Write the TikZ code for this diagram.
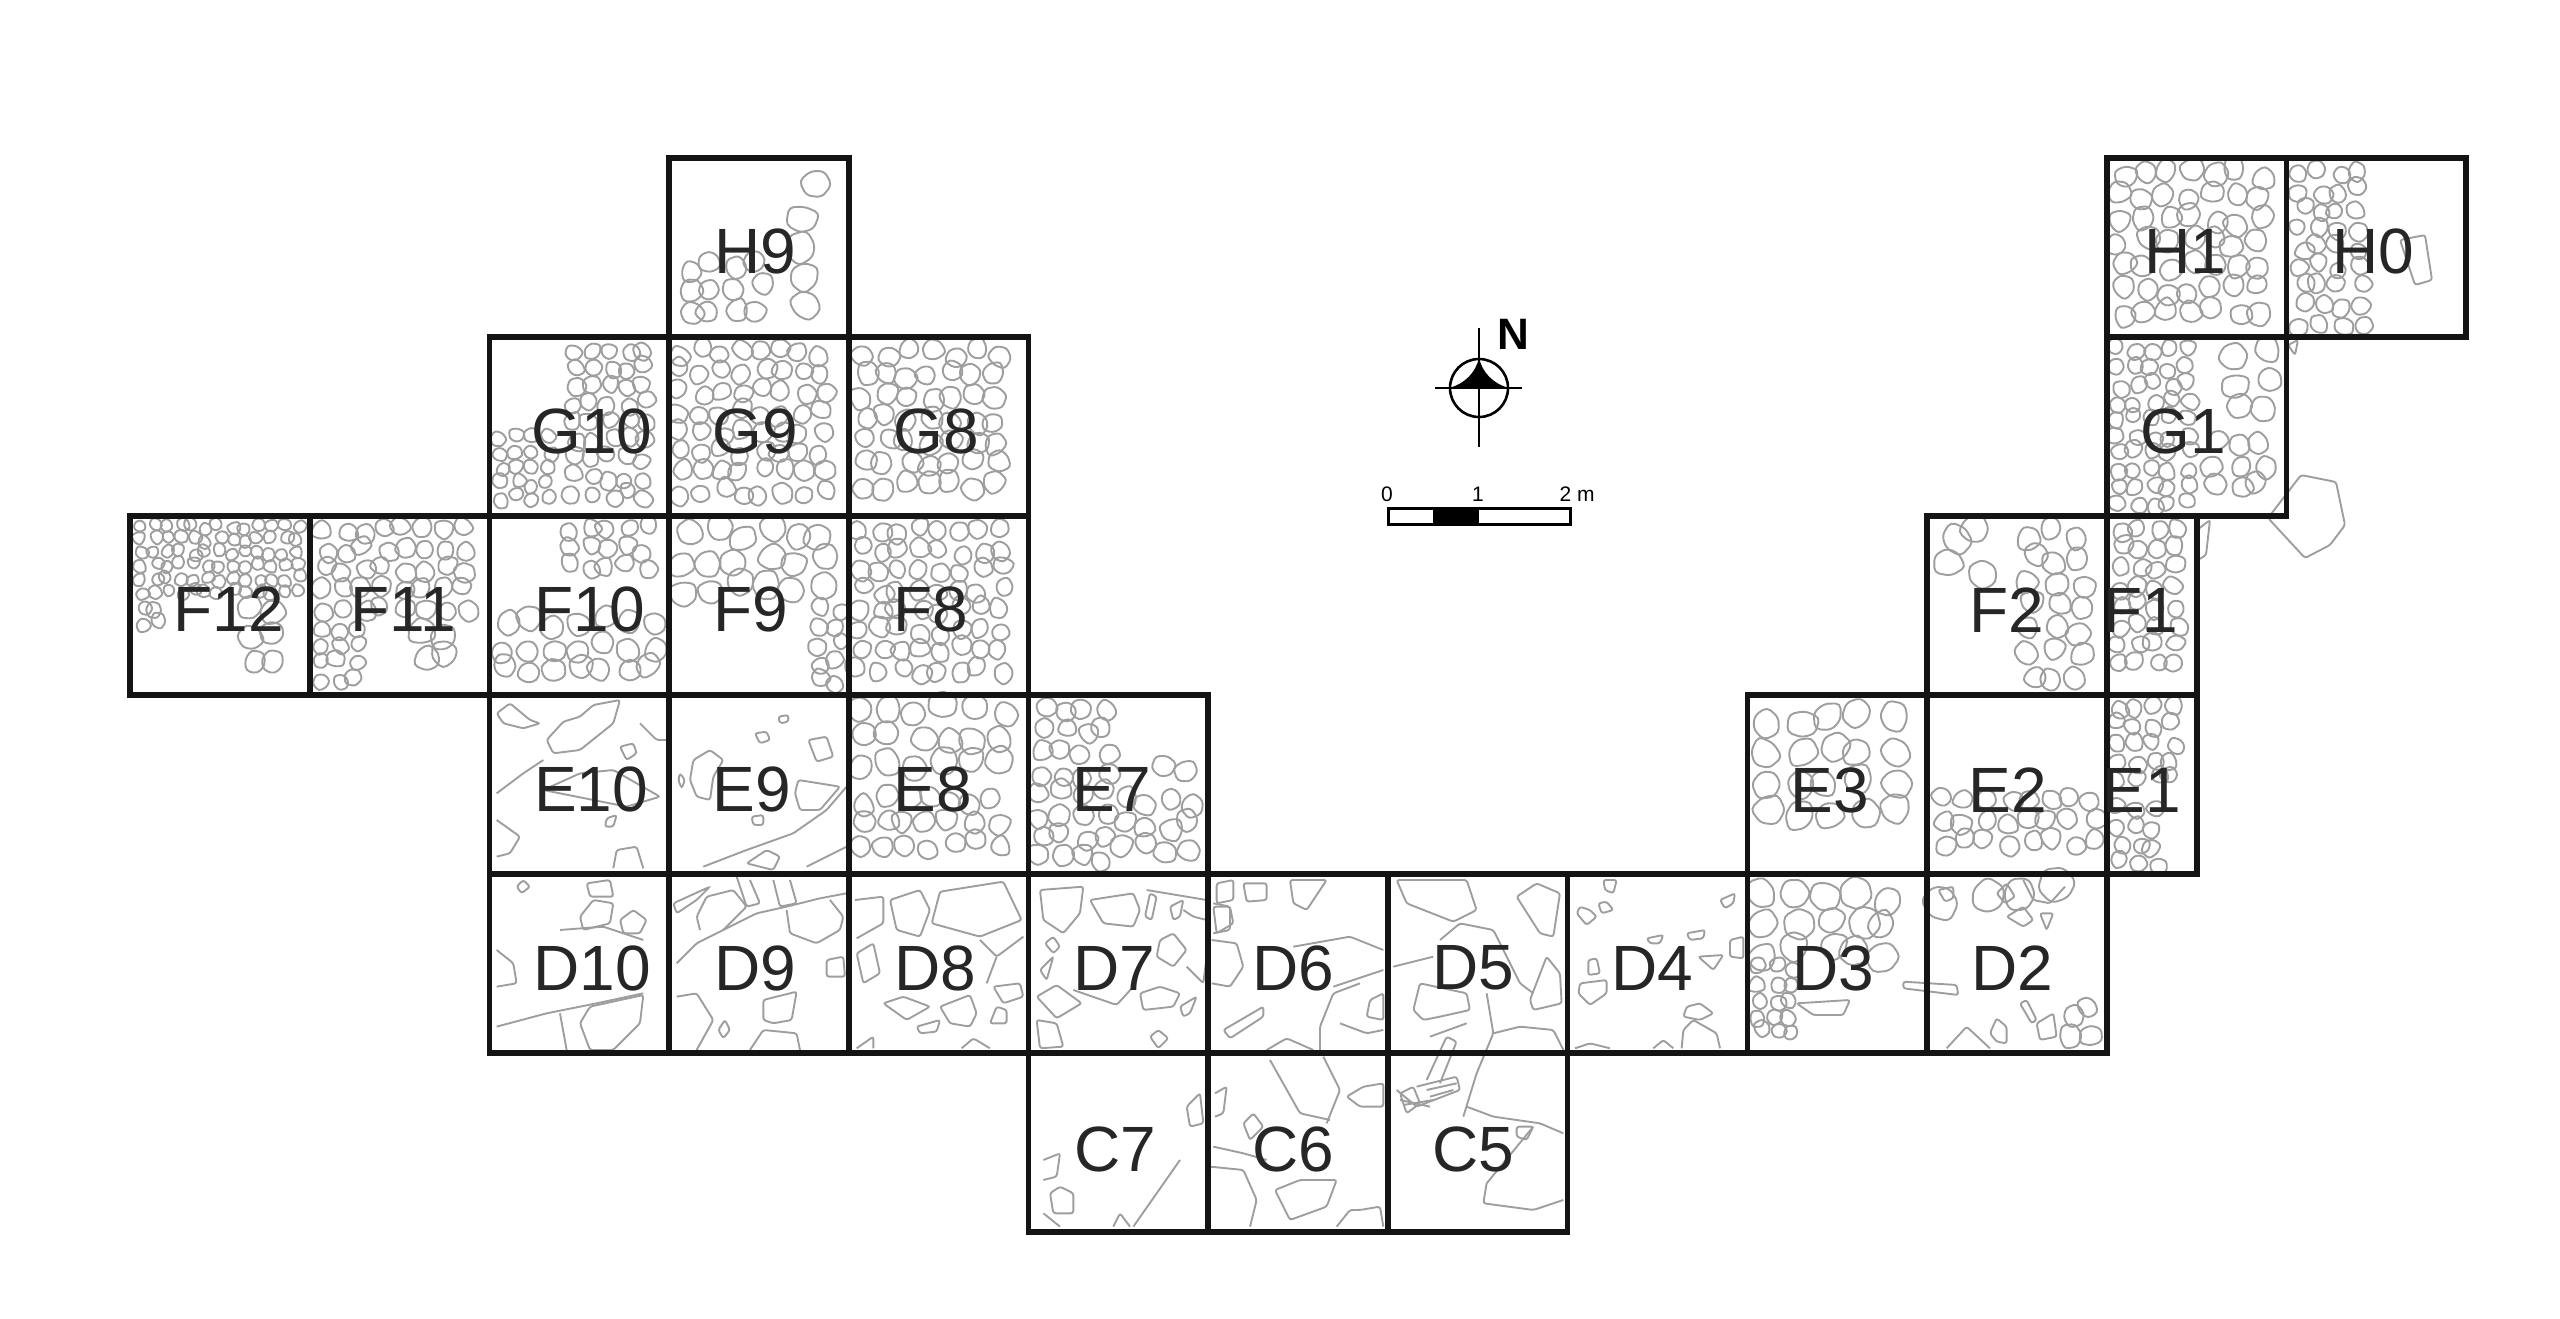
\documentclass[tikz,border=0pt]{standalone}
\usepackage{fontspec}
\setmainfont{Liberation Sans}
\tikzset{
	cell/.style={draw=black!92, rectangle, line width=5.6pt, minimum width=179.7pt, minimum height=179pt, inner sep=0pt, outer sep=0pt},
	halfcell/.style={cell, minimum width=90.3pt},
	tag/.style={inner sep=0pt, text=black!85, font=\fontsize{64}{64}\selectfont},
	stone/.style={draw=black!38, line width=1.9pt, rounded corners=2.5pt},
	smalltext/.style={inner sep=0pt, font=\fontsize{21}{21}\selectfont},
}
\pgfmathsetseed{11}
\newcommand{\cobbles}[5]{
	\pgfmathtruncatemacro\nx{(#3-#1)/#5-1}
	\pgfmathtruncatemacro\ny{(#4-#2)/#5-1}
	\foreach \i in {0,...,\nx}{
		\foreach \j in {0,...,\ny}{
			\pgfmathsetmacro\cx{#1+(\i+.25+.5*rnd)*#5}
			\pgfmathsetmacro\cy{#2+(\j+.25+.5*rnd)*#5}
			\pgfmathsetmacro\rot{360*rnd}
			\pgfmathsetmacro\ra{#5*(.42+.2*rnd)}
			\pgfmathsetmacro\rb{#5*(.42+.2*rnd)}
			\pgfmathsetmacro\rc{#5*(.42+.2*rnd)}
			\pgfmathsetmacro\rd{#5*(.42+.2*rnd)}
			\pgfmathsetmacro\re{#5*(.42+.2*rnd)}
			\pgfmathsetmacro\rf{#5*(.42+.2*rnd)}
			\draw [stone, rounded corners=#5*.17pt] ([shift={(\rot:\ra)}]\cx,\cy) -- ([shift={(\rot+60:\rb)}]\cx,\cy) -- ([shift={(\rot+120:\rc)}]\cx,\cy) -- ([shift={(\rot+180:\rd)}]\cx,\cy) -- ([shift={(\rot+240:\re)}]\cx,\cy) -- ([shift={(\rot+300:\rf)}]\cx,\cy) -- cycle;
		}
	}
}
\begin{document}
\begin{tikzpicture}[x=1pt, y=-1pt]
	\useasboundingbox (0,0) rectangle (2560,1318);

	% stones, packed
	\cobbles{678}{255}{790}{335}{23}
	\cobbles{795}{170}{846}{335}{30}
	\cobbles{565}{342}{667}{514}{18}
	\cobbles{494}{430}{565}{514}{15}
	\cobbles{672}{342}{847}{514}{20}
	\cobbles{853}{342}{1026}{514}{22}
	\cobbles{135}{520}{305}{600}{13}
	\cobbles{240}{600}{305}{692}{24}
	\cobbles{135}{600}{165}{630}{15}
	\cobbles{314}{520}{487}{620}{20}
	\cobbles{314}{620}{370}{692}{17}
	\cobbles{410}{620}{487}{692}{26}
	\cobbles{560}{520}{667}{590}{19}
	\cobbles{494}{610}{667}{692}{24}
	\cobbles{672}{520}{847}{610}{27}
	\cobbles{810}{600}{847}{692}{18}
	\cobbles{850}{520}{1026}{692}{20}
	\cobbles{852}{698}{1027}{800}{27}
	\cobbles{852}{790}{1027}{872}{22}
	\cobbles{1032}{700}{1120}{872}{21}
	\cobbles{1110}{790}{1206}{872}{23}
	\cobbles{1150}{760}{1206}{800}{22}
	\cobbles{1755}{705}{1925}{830}{30}
	\cobbles{1935}{790}{2105}{872}{21}
	\cobbles{2020}{522}{2105}{690}{24}
	\cobbles{1935}{522}{2020}{590}{30}
	\cobbles{2110}{520}{2195}{690}{19}
	\cobbles{2110}{698}{2195}{800}{18}
	\cobbles{2110}{800}{2170}{872}{18}
	\cobbles{2110}{342}{2205}{514}{17}
	\cobbles{2205}{430}{2284}{514}{22}
	\cobbles{2225}{342}{2284}{430}{26}
	\cobbles{2110}{162}{2285}{335}{23}
	\cobbles{2292}{162}{2370}{335}{19}
	\cobbles{1752}{878}{1925}{990}{30}
	\cobbles{1752}{960}{1810}{1050}{16}
	\cobbles{1930}{876}{2100}{920}{36}
	\cobbles{2060}{1000}{2105}{1050}{22}

	% stones, single
	\begin{scope}[x=.3333pt, y=-.3333pt, shift={(480pt,-690pt)}]
		\draw [stone] (200,150)--(250,95)--(300,80)--(340,45)--(420,30)--(400,100)--(300,180)--(220,190)--cycle;
		\draw [stone] (50,70)--(90,40)--(150,90)--(180,100)--(130,115)--(70,100)--cycle;
		\draw [stone] (50,310)--(130,250)--(190,210);
		\draw [stone] (190,300)--(300,250)--(400,240)--(540,320)--(440,350)--cycle;
		\draw [stone] (420,170)--(460,160)--(470,190)--(440,210)--cycle;
		\draw [stone] (380,385)--(410,375)--(400,410)--(375,410)--cycle;
		\draw [stone] (400,535)--(410,480)--(470,470)--(490,535);
		\draw [stone] (50,390)--(120,440)--(90,490)--(50,500);
		\draw [stone] (480,100)--(530,150)--(560,150);
		\draw [stone] (640,210)--(690,180)--(730,210)--(700,260)--(690,330)--(650,320)--(630,270)--cycle;
		\draw [stone] (600,250)--(615,270)--(605,295)--(595,270)--cycle;
		\draw [stone] (825,130)--(860,125)--(870,150)--(840,160)--cycle;
		\draw [stone] (895,80)--(925,75)--(925,95)--(900,100)--cycle;
		\draw [stone] (815,380)--(850,375)--(850,405)--(820,405)--cycle;
		\draw [stone] (955,270)--(1080,290)--(1020,360)--(960,360)--(945,310)--cycle;
		\draw [stone] (985,150)--(1040,140)--(1060,200)--(1010,215)--cycle;
		\draw [stone] (1100,290)--(1040,360)--(940,430)--(800,480)--(670,530);
		\draw [stone] (800,520)--(860,480)--(900,500)--(880,540)--cycle;
		\draw [stone] (980,530)--(1100,470);
		\draw [stone] (300,680)--(340,630)--(400,640)--(390,700)--(310,720)--cycle;
		\draw [stone] (420,690)--(460,660)--(500,690)--(480,730)--(430,730)--cycle;
		\draw [stone] (320,580)--(390,570)--(400,620)--(330,620)--cycle;
		\draw [stone] (50,1010)--(200,970)--(350,940)--(490,910);
		\draw [stone] (240,720)--(370,710)--(490,750);
		\draw [stone] (300,1000)--(330,950)--(490,915)--(480,1000)--(400,1080)--(330,1080)--cycle;
		\draw [stone] (50,780)--(100,820)--(110,880)--(50,890);
		\draw [stone] (240,970)--(260,1080);
		\draw [stone] (130,570)--(150,590)--(125,610)--(110,590)--cycle;
		\draw [stone] (590,820)--(650,760)--(730,720)--(830,670)--(920,650)--(1020,625)--(1100,610);
		\draw [stone] (660,720)--(650,680)--(680,620)--(760,600)--(800,650)--(730,720);
		\draw [stone] (920,660)--(930,730)--(1010,760)--(1080,720)--(1090,680)--(1050,630);
		\draw [stone] (590,920)--(650,910)--(700,990)--(650,1080);
		\draw [stone] (850,990)--(850,930)--(950,905)--(935,990)--(880,1000)--cycle;
		\draw [stone] (715,1020)--(735,990)--(750,1020)--(730,1045)--cycle;
		\draw [stone] (810,1080)--(850,1020)--(950,1030)--(960,1080);
		\draw [stone] (1040,810)--(1090,800)--(1095,860)--(1040,860)--cycle;
		\draw [stone] (770,560)--(800,650)--(840,640)--(810,570);
		\draw [stone] (580,640)--(690,590)--(650,630)--(590,670)--cycle;
		\draw [stone] (880,570)--(900,650)--(950,640)--(930,570);
	\end{scope}
	\begin{scope}[x=.3333pt, y=-.3333pt, shift={(840pt,-690pt)}]
		\draw [stone] (275,700)--(300,605)--(490,575)--(545,690)--(420,740)--cycle;
		\draw [stone] (150,630)--(240,600)--(270,660)--(240,740)--(170,720)--cycle;
		\draw [stone] (45,630)--(130,620)--(130,700)--(50,745);
		\draw [stone] (50,790)--(100,760)--(120,850)--(70,880)--cycle;
		\draw [stone] (130,940)--(190,920)--(270,950)--(200,990)--cycle;
		\draw [stone] (300,950)--(390,915)--(410,970)--(390,1010)--(330,1000)--cycle;
		\draw [stone] (460,890)--(540,880)--(550,920)--(490,940)--cycle;
		\draw [stone] (450,1000)--(470,950)--(500,960)--(500,1000)--cycle;
		\draw [stone] (50,1075)--(100,1040)--(100,1075);
		\draw [stone] (365,1075)--(400,1045)--(450,1075);
		\draw [stone] (230,1010)--(300,990)--(290,1025)--(240,1030)--cycle;
		\draw [stone] (420,750)--(470,800)--(550,740);
		\draw [stone] (470,800)--(440,880);
		\draw [stone] (600,600)--(730,590)--(720,670)--(670,730)--(610,690)--cycle;
		\draw [stone] (750,630)--(880,610)--(900,660)--(880,710)--(790,700)--cycle;
		\draw [stone] (615,760)--(640,740)--(660,770)--(640,790)--cycle;
		\draw [stone] (590,920)--(650,885)--(725,940)--(650,985)--cycle;
		\draw [stone] (590,990)--(650,1000)--(670,1070)--(600,1075)--cycle;
		\draw [stone] (900,910)--(960,890)--(1020,910)--(1000,950)--(910,960)--cycle;
		\draw [stone] (930,1040)--(955,1020)--(985,1045)--(955,1075)--cycle;
		\draw [stone] (700,900)--(830,945)--(880,890);
		\draw [stone] (920,600)--(1100,630);
		\draw [stone] (1030,660)--(1060,680)--(1100,690);
		\draw [stone] (950,800)--(1000,830)--(1040,780)--(1000,730)--(960,750)--cycle;
		\draw [stone] (1040,830)--(1090,880)--(1100,800);
		\draw [stone] (915,680)--(930,610)--(950,620)--(935,690)--cycle;
		\draw [stone] (990,650)--(1030,630)--(1020,680)--(1000,690)--cycle;
		\draw [stone] (1020,950)--(1070,920)--(1050,970)--(1030,980)--cycle;
		\draw [stone] (600,840)--(640,800)--(620,870)--cycle;
		\draw [stone] (1120,640)--(1170,650)--(1170,720)--(1120,730);
	\end{scope}
	\begin{scope}[x=.3333pt, y=-.3333pt, shift={(1200pt,-860pt)}]
		\draw [stone] (130,70)--(200,70)--(200,120)--(140,125)--cycle;
		\draw [stone] (50,70)--(100,60)--(100,120)--(50,130)--cycle;
		\draw [stone] (270,60)--(380,60)--(320,150)--(280,130)--cycle;
		\draw [stone] (35,240)--(110,250)--(130,320)--(90,380)--(35,370);
		\draw [stone] (40,140)--(90,140)--(100,190)--(50,220)--cycle;
		\draw [stone] (70,510)--(190,440)--(190,470)--(90,535)--cycle;
		\draw [stone] (280,260)--(450,230)--(550,270);
		\draw [stone] (400,380)--(550,330);
		\draw [stone] (360,570)--(360,500)--(400,400)--(480,370);
		\draw [stone] (420,490)--(500,520)--(550,510);
		\draw [stone] (510,420)--(550,400)--(550,480)--(500,470)--cycle;
		\draw [stone] (200,570)--(260,535)--(340,570);
		\draw [stone] (370,590)--(420,690)--(380,790);
		\draw [stone] (210,600)--(300,760)--(390,780);
		\draw [stone] (440,710)--(490,680)--(550,670)--(550,740)--(480,740)--cycle;
		\draw [stone] (225,990)--(300,960)--(410,960)--(380,1040)--(270,1080)--cycle;
		\draw [stone] (130,790)--(160,760)--(190,800)--(150,840)--cycle;
		\draw [stone] (30,920)--(130,930)--(170,1020)--(150,1100);
		\draw [stone] (410,1100)--(450,1050)--(480,1050)--(540,1040)--(550,1100);
		\draw [stone] (45,700)--(80,680)--(70,760)--(45,770);
		\draw [stone] (40,860)--(130,880)--(200,900);
		\draw [stone] (590,60)--(800,60)--(830,150)--(760,185)--(620,130)--cycle;
		\draw [stone] (950,110)--(1010,70)--(1080,100)--(1060,230)--(1020,220)--cycle;
		\draw [stone] (720,240)--(780,190)--(880,210)--(960,370)--(1000,400);
		\draw [stone] (580,320)--(700,290);
		\draw [stone] (640,450)--(660,370)--(800,400)--(810,450)--(720,470)--(670,480)--cycle;
		\draw [stone] (990,420)--(1040,290)--(1080,340)--(1085,430)--(1000,450)--cycle;
		\draw [stone] (880,520)--(960,500)--(1060,510)--(1090,570);
		\draw [stone] (690,530)--(800,490);
		\draw [stone] (860,400)--(880,520)--(830,640)--(790,770);
		\draw [stone] (680,660)--(740,530)--(770,545)--(720,670);
		\draw [stone] (800,740)--(880,770)--(1020,790)--(1090,820);
		\draw [stone] (860,970)--(1000,800);
		\draw [stone] (860,970)--(850,1030)--(1000,1050)--(1090,1020);
		\draw [stone] (950,800)--(1000,800)--(980,840)--(950,830)--cycle;
		\draw [stone] (600,700)--(640,680)--(660,730)--(620,760)--cycle;
		\draw [stone] (590,690)--(650,740)--(780,690)--(770,650)--(650,680);
		\draw [stone] (600,720)--(690,740);
		\draw [stone] (610,735)--(700,720);
		\draw [stone] (680,690)--(770,670);
		\draw [stone] (690,710)--(760,690);
		% C7
		\draw [stone] (-440,1060)--(-380,1060)--(-380,1000)--(-420,980)--(-450,1000)--cycle;
		\draw [stone] (-470,900)--(-420,880)--(-430,950)--(-470,960);
		\draw [stone] (-470,1060)--(-420,1100);
		\draw [stone] (-200,1100)--(-60,900);
		\draw [stone] (-260,1100)--(-240,1060)--(-210,1100);
		\draw [stone] (-40,740)--(0,700)--(10,790)--(-30,800)--cycle;
	\end{scope}
	\begin{scope}[x=.3333pt, y=-.3333pt, shift={(1550pt,-860pt)}]
		\draw [stone] (90,140)--(120,150)--(140,170)--(110,195)--(80,160)--cycle;
		\draw [stone] (160,60)--(200,60)--(190,100)--(165,90)--cycle;
		\draw [stone] (145,130)--(170,125)--(190,150)--(155,160)--cycle;
		\draw [stone] (290,235)--(340,225)--(330,250)--(300,250)--cycle;
		\draw [stone] (410,220)--(465,210)--(460,235)--(420,240)--cycle;
		\draw [stone] (510,120)--(555,100)--(550,130)--(525,145)--cycle;
		\draw [stone] (445,290)--(520,285)--(490,330)--cycle;
		\draw [stone] (90,370)--(170,360)--(170,400)--(120,435)--(85,400)--cycle;
		\draw [stone] (395,565)--(400,510)--(430,480)--(500,520)--(510,565);
		\draw [stone] (410,440)--(450,430)--(490,460)--(450,480)--(400,470)--cycle;
		\draw [stone] (115,300)--(140,295)--(150,340)--(115,345)--cycle;
		\draw [stone] (540,240)--(580,230)--(580,295)--(540,290)--cycle;
		\draw [stone] (310,565)--(340,540)--(370,565);
		\draw [stone] (75,565)--(120,550)--(180,565);
		\draw [stone] (740,430)--(900,420)--(880,465)--(790,465)--cycle;
		\draw [stone] (1060,365)--(1220,375)--(1225,405)--(1060,385)--cycle;
		\draw [stone] (1190,565)--(1250,500)--(1320,565);
		\draw [stone] (1320,520)--(1340,475)--(1370,500)--(1370,550)--(1340,545)--cycle;
		\draw [stone] (1370,170)--(1420,140)--(1450,180)--(1420,200)--cycle;
		\draw [stone] (1470,160)--(1510,160)--(1490,210)--cycle;
		\draw [stone] (1420,60)--(1450,120)--(1500,130)--(1545,80);
		\draw [stone] (1340,100)--(1370,70)--(1395,110)--(1365,130)--cycle;
		\draw [stone] (1165,90)--(1210,80)--(1210,115)--(1185,125)--cycle;
		\draw [stone] (1410,430)--(1430,420)--(1460,480)--(1445,490)--cycle;
		\draw [stone] (1460,490)--(1510,460)--(1520,530)--(1470,540)--cycle;
	\end{scope}
	% loose ones on the east side
	\draw [stone] (2268,518)--(2301,475)--(2336,482)--(2345,525)--(2330,545)--(2305,558)--cycle;
	\draw [stone] (2197,530)--(2210,520)--(2206,555)--(2198,560)--cycle;
	\draw [stone] (2288,345)--(2298,340)--(2295,355)--cycle;
	\draw [stone] (2400,240)--(2425,235)--(2432,280)--(2415,285)--cycle;

	% grid
	\node [cell] (H9) at (759,247.5) {};
	\node [cell] (G10) at (579.3,426.5) {};
	\node [cell] (G9) at (759,426.5) {};
	\node [cell] (G8) at (938.7,426.5) {};
	\node [cell] (F12) at (219.9,605.5) {};
	\node [cell] (F11) at (399.6,605.5) {};
	\node [cell] (F10) at (579.3,605.5) {};
	\node [cell] (F9) at (759,605.5) {};
	\node [cell] (F8) at (938.7,605.5) {};
	\node [cell] (E10) at (579.3,784.5) {};
	\node [cell] (E9) at (759,784.5) {};
	\node [cell] (E8) at (938.7,784.5) {};
	\node [cell] (E7) at (1118.4,784.5) {};
	\node [cell] (D10) at (579.3,963.5) {};
	\node [cell] (D9) at (759,963.5) {};
	\node [cell] (D8) at (938.7,963.5) {};
	\node [cell] (D7) at (1118.4,963.5) {};
	\node [cell] (D6) at (1298.1,963.5) {};
	\node [cell] (D5) at (1477.8,963.5) {};
	\node [cell] (D4) at (1657.5,963.5) {};
	\node [cell] (D3) at (1837.2,963.5) {};
	\node [cell] (D2) at (2016.9,963.5) {};
	\node [cell] (C7) at (1118.4,1142.5) {};
	\node [cell] (C6) at (1298.1,1142.5) {};
	\node [cell] (C5) at (1477.8,1142.5) {};
	\node [cell] (E3) at (1837.2,784.5) {};
	\node [cell] (E2) at (2016.9,784.5) {};
	\node [halfcell] (E1) at (2151.8,784.5) {};
	\node [cell] (F2) at (2016.9,605.5) {};
	\node [halfcell] (F1) at (2151.8,605.5) {};
	\node [cell] (G1) at (2196.6,426.5) {};
	\node [cell] (H1) at (2196.6,247.5) {};
	\node [cell] (H0) at (2376.3,247.5) {};

	% square names
	\node [tag] (tagH9) at (755,251) {H9};
	\node [tag] (tagG10) at (592,431) {G10};
	\node [tag] (tagG9) at (755,431) {G9};
	\node [tag] (tagG8) at (936,431) {G8};
	\node [tag] (tagF12) at (229,609) {F12};
	\node [tag] (tagF11) at (403,609) {F11};
	\node [tag] (tagF10) at (590,609) {F10};
	\node [tag] (tagF9) at (751,609) {F9};
	\node [tag] (tagF8) at (931,609) {F8};
	\node [tag] (tagE10) at (591,789) {E10};
	\node [tag] (tagE9) at (752,789) {E9};
	\node [tag] (tagE8) at (933,789) {E8};
	\node [tag] (tagE7) at (1112,789) {E7};
	\node [tag] (tagD10) at (592,968) {D10};
	\node [tag] (tagD9) at (755,968) {D9};
	\node [tag] (tagD8) at (935,968) {D8};
	\node [tag] (tagD7) at (1114,968) {D7};
	\node [tag] (tagD6) at (1293,968) {D6};
	\node [tag] (tagD5) at (1473,968) {D5};
	\node [tag] (tagD4) at (1652,968) {D4};
	\node [tag] (tagD3) at (1833,968) {D3};
	\node [tag] (tagD2) at (2012,968) {D2};
	\node [tag] (tagC7) at (1115,1149) {C7};
	\node [tag] (tagC6) at (1293,1149) {C6};
	\node [tag] (tagC5) at (1473,1149) {C5};
	\node [tag] (tagE3) at (1830,790) {E3};
	\node [tag] (tagE2) at (2008,790) {E2};
	\node [tag] (tagE1) at (2142,790) {E1};
	\node [tag] (tagF2) at (2007,610) {F2};
	\node [tag] (tagF1) at (2141,610) {F1};
	\node [tag] (tagG1) at (2183,431) {G1};
	\node [tag] (tagH1) at (2185,251) {H1};
	\node [tag] (tagH0) at (2373,251) {H0};

	% north arrow
	\node [draw, circle, line width=2.6pt, minimum size=58pt, inner sep=0pt] (rose) at (1479,388) {};
	\coordinate (roseN) at (1479,328);
	\coordinate (roseS) at (1479,447);
	\coordinate (roseW) at (1435,388);
	\coordinate (roseE) at (1522,388);
	\draw [line width=2.6pt] (roseN) -- (roseS);
	\draw [line width=2.6pt] (roseW) -- (roseE);
	\fill (rose.west) .. controls (1465,384) and (1476,372) .. (rose.north) .. controls (1482,372) and (1493,384) .. (rose.east) -- cycle;
	\node [inner sep=0pt, font=\bfseries\fontsize{44}{44}\selectfont] (north) at (1513,334) {N};

	% scale bar
	\node [draw, rectangle, line width=3pt, minimum width=182pt, minimum height=16pt, inner sep=0pt] (bar) at (1479,516.5) {};
	\node [fill, rectangle, minimum width=46pt, minimum height=16pt, inner sep=0pt] (barblack) at (1456,516.5) {};
	\node [smalltext] (bar0) at (1387,494) {0};
	\node [smalltext] (bar1) at (1478,494) {1};
	\node [smalltext] (bar2) at (1577,494) {2 m};
\end{tikzpicture}
\end{document}
